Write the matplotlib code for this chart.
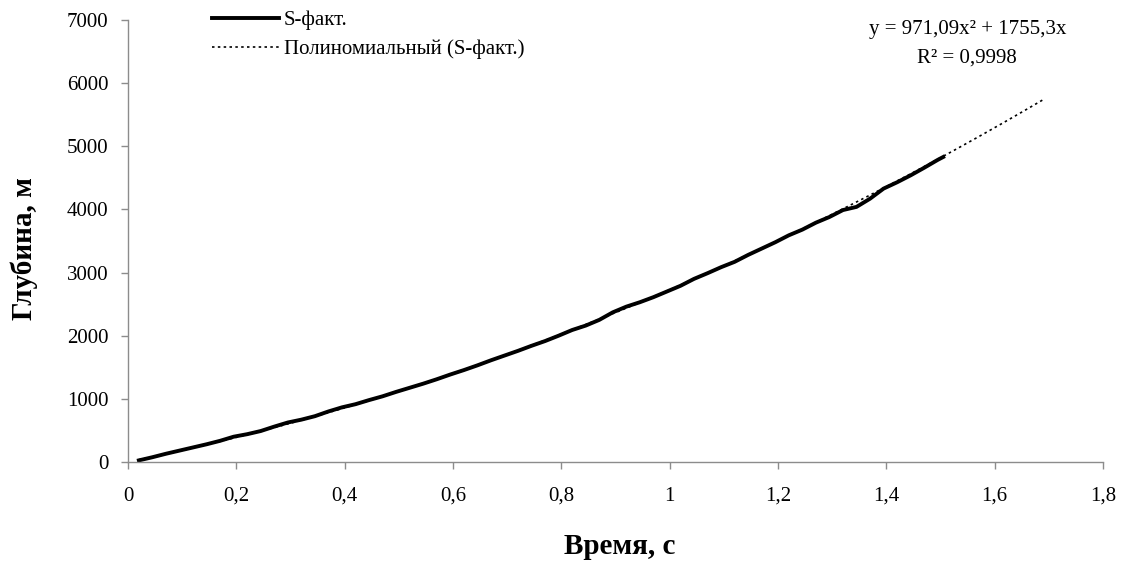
#
# Depth vs time with polynomial trendline
#
import numpy as np
import matplotlib.pyplot as plt
from matplotlib.ticker import FuncFormatter, MultipleLocator

plt.rcParams['font.family'] = ['Liberation Serif', 'DejaVu Serif']

time_s = [0.02, 0.045, 0.07, 0.095, 0.12, 0.145, 0.17, 0.195, 0.22, 0.245,
          0.27, 0.295, 0.32, 0.345, 0.37, 0.395, 0.42, 0.445, 0.47, 0.495,
          0.52, 0.545, 0.57, 0.595, 0.62, 0.645, 0.67, 0.695, 0.72, 0.745,
          0.77, 0.795, 0.82, 0.845, 0.87, 0.895, 0.92, 0.945, 0.97, 0.995,
          1.02, 1.045, 1.07, 1.095, 1.12, 1.145, 1.17, 1.195, 1.22, 1.245,
          1.27, 1.295, 1.32, 1.345, 1.37, 1.395, 1.42, 1.445, 1.47, 1.495, 1.505]
depth_m = [25, 75, 130, 180, 230, 280, 335, 400, 440, 490,
           560, 625, 670, 725, 800, 865, 915, 980, 1040, 1110,
           1175, 1240, 1310, 1385, 1455, 1530, 1610, 1685, 1760, 1840,
           1915, 2000, 2090, 2160, 2250, 2370, 2460, 2530, 2610, 2700,
           2790, 2900, 2990, 3085, 3170, 3280, 3380, 3480, 3590, 3680,
           3790, 3880, 3990, 4040, 4170, 4330, 4430, 4540, 4660, 4785, 4830]

# trendline as shown in the chart: y = 971,09x^2 + 1755,3x
trend_coef = [971.09, 1755.3, 0.0]
trend_range = [0.02, 1.69]

fig = plt.figure(figsize=(11.31, 5.62), dpi=100)
ax = fig.add_axes([0.1132, 0.178, 0.862, 0.7864])

ax.plot(time_s, depth_m, color='black', linewidth=2.8, label='S-факт.')
tx = np.linspace(trend_range[0], trend_range[1], 200)
ax.plot(tx, np.polyval(trend_coef, tx), color='black', linewidth=1.2,
        linestyle=(0, (1.5, 2.0)), label='Полиномиальный (S-факт.)')

ax.set_xlim(0, 1.8)
ax.set_ylim(0, 7000)
ax.xaxis.set_major_locator(MultipleLocator(0.2))
ax.yaxis.set_major_locator(MultipleLocator(1000))

def comma_fmt(v, pos):
    s = ('%.1f' % v).rstrip('0').rstrip('.')
    return s.replace('.', ',')

ax.xaxis.set_major_formatter(FuncFormatter(comma_fmt))
ax.yaxis.set_major_formatter(FuncFormatter(lambda v, p: '%d' % v))

for s in ['top', 'right']:
    ax.spines[s].set_visible(False)
for s in ['left', 'bottom']:
    ax.spines[s].set_color('#8c8c8c')
    ax.spines[s].set_linewidth(1.0)
ax.tick_params(axis='both', colors='#8c8c8c', length=5, width=1.0,
               labelcolor='black', labelsize=15)
ax.tick_params(axis='x', pad=13)
ax.tick_params(axis='y', pad=9)

ax.set_xlabel('Время, с', fontsize=21, fontweight='bold')
ax.xaxis.label.set_va('center')
ax.xaxis.set_label_coords(0.504, -0.192)
ax.set_ylabel('Глубина, м', fontsize=21, fontweight='bold')
ax.yaxis.label.set_va('center')
ax.yaxis.set_label_coords(-0.1067, 0.482)

leg = ax.legend(loc='upper left', bbox_to_anchor=(0.171, 1.015),
                bbox_transform=fig.transFigure, frameon=False, fontsize=15,
                handlelength=3.2, handletextpad=0.25, labelspacing=0.45)

fig.text(0.856, 0.948, 'y = 971,09x² + 1755,3x', fontsize=15,
         ha='center', va='center')
fig.text(0.855, 0.897, 'R² = 0,9998', fontsize=15, ha='center', va='center')

fig.savefig('out.png', dpi=100)
